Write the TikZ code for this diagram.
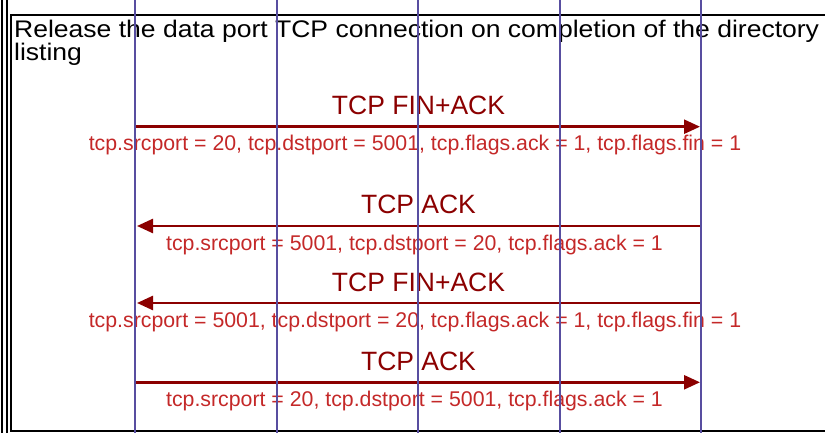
\documentclass[tikz,border=0pt]{standalone}
\usepackage{graphicx}
\usepackage{fontspec}
\setmainfont{Liberation Sans}
\usetikzlibrary{arrows.meta}

\definecolor{msgred}{RGB}{139,0,0}
\definecolor{lblred}{RGB}{196,40,40}
\definecolor{lifeblue}{RGB}{88,78,160}

\tikzset{
  msg/.style={draw=msgred, line width=2.5pt, -{Triangle[length=16pt,width=14pt]}, shorten >=1pt},
  msgtitle/.style={anchor=base, text=msgred, inner sep=0pt, font=\fontsize{26.5}{30}\selectfont},
  msgfields/.style={anchor=base, text=lblred, inner sep=0pt, font=\fontsize{21.3}{25}\selectfont},
  lifeline/.style={draw=lifeblue, line width=2pt},
  notetext/.style={anchor=base west, inner sep=0pt, font=\fontsize{24}{27}\selectfont},
}

\begin{document}
\begin{tikzpicture}[x=1pt, y=-1pt]
\useasboundingbox (0,0) rectangle (825,433);

% frame
\draw[line width=1.2pt] (2,0) -- (2,433);
\draw[line width=1.2pt] (7,0) -- (7,433);
\draw[line width=2pt] (11,15) rectangle (830,431);

% note text
\node[notetext] (note1) at (14,37.7)
  {\scalebox{1.105}[1]{Release the data port TCP connection on completion of the directory}};
\node[notetext] (note2) at (14,61)
  {\scalebox{1.105}[1]{listing}};

% message end points on the lifelines
\coordinate (a1) at (135,126.7);  \coordinate (b1) at (701,126.7);
\coordinate (a2) at (701,226);    \coordinate (b2) at (136,226);
\coordinate (a3) at (701,303);    \coordinate (b3) at (136,303);
\coordinate (a4) at (135,382.3);  \coordinate (b4) at (701,382.3);

% messages
\draw[msg] (a1) -- (b1);
\node[msgtitle] (t1) at (418.5,115) {TCP FIN+ACK};
\node[msgfields] (f1) at (415,150.7) {tcp.srcport = 20, tcp.dstport = 5001, tcp.flags.ack = 1, tcp.flags.fin = 1};

\draw[msg] (a2) -- (b2);
\node[msgtitle] (t2) at (418.5,213.5) {TCP ACK};
\node[msgfields] (f2) at (414.5,250) {tcp.srcport = 5001, tcp.dstport = 20, tcp.flags.ack = 1};

\draw[msg] (a3) -- (b3);
\node[msgtitle] (t3) at (418.5,291.5) {TCP FIN+ACK};
\node[msgfields] (f3) at (415,327) {tcp.srcport = 5001, tcp.dstport = 20, tcp.flags.ack = 1, tcp.flags.fin = 1};

\draw[msg] (a4) -- (b4);
\node[msgtitle] (t4) at (418.5,370.5) {TCP ACK};
\node[msgfields] (f4) at (414.5,406) {tcp.srcport = 20, tcp.dstport = 5001, tcp.flags.ack = 1};

% lifelines
\foreach \x [count=\i] in {135,277,418,560,701} {
  \coordinate (top\i) at (\x,0);
  \coordinate (bot\i) at (\x,433);
  \draw[lifeline] (top\i) -- (bot\i);
}

\end{tikzpicture}
\end{document}
